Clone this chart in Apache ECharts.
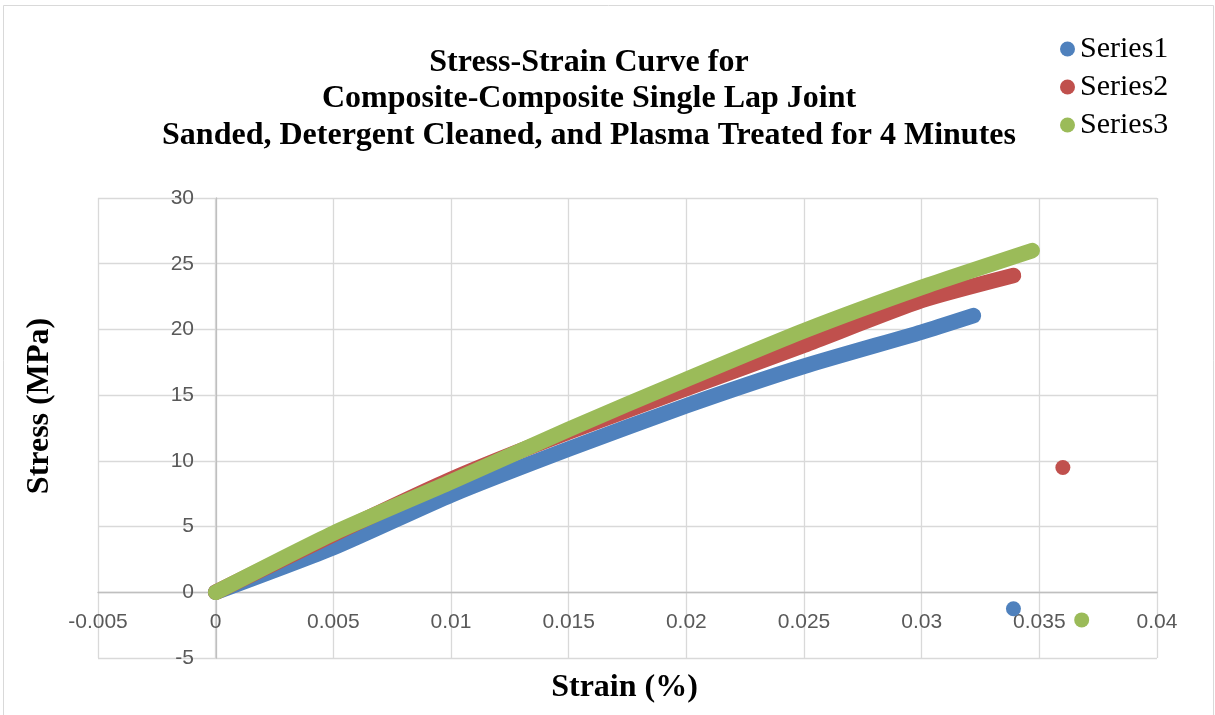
<!DOCTYPE html>
<html>
<head>
<meta charset="utf-8">
<script src="https://cdn.jsdelivr.net/npm/echarts@6/dist/echarts.min.js"></script>
<style>
  html, body { margin: 0; padding: 0; background: #ffffff; }
  #chart { width: 1215px; height: 715px; }
</style>
</head>
<body>
<div id="chart"></div>
<script>
// Strain (%) / stress (MPa) readings for each specimen
const series1Curve = [[0, 0], [0.005, 3.4], [0.01, 7.4], [0.015, 10.9], [0.02, 14.2], [0.025, 17.2], [0.03, 19.8], [0.0322, 21.05]];
const series2Curve = [[0, 0], [0.005, 4.4], [0.01, 8.6], [0.015, 12.2], [0.02, 15.5], [0.025, 18.8], [0.03, 22.2], [0.0339, 24.1]];
const series3Curve = [[0, 0], [0.005, 4.5], [0.01, 8.4], [0.015, 12.4], [0.02, 16.2], [0.025, 19.9], [0.03, 23.2], [0.0347, 26.0]];

// Last reading of each specimen after failure
const series1Break = [[0.0339, -1.25]];
const series2Break = [[0.0360, 9.5]];
const series3Break = [[0.0368, -2.1]];

const seriesNames = ['Series1', 'Series2', 'Series3'];
const seriesColors = ['#4f81bd', '#c0504d', '#9bbb59'];

const titleLines = [
  'Stress-Strain Curve for',
  'Composite-Composite Single Lap Joint',
  'Sanded, Detergent Cleaned, and Plasma Treated for 4 Minutes'
];

const curves = [series1Curve, series2Curve, series3Curve];
const breaks = [series1Break, series2Break, series3Break];

const serif = '"Liberation Serif", "Times New Roman", serif';
const sans = '"Liberation Sans", Arial, sans-serif';

// plot box and where the zero lines fall inside it
const gridBox = { left: 98, right: 58, top: 198, bottom: 57 };
const xZeroFromBottom = 66;   // y = 0 sits 66px above the plot bottom
const yZeroFromLeft = 118;    // x = 0 sits 118px right of the plot left edge

const series = [];
curves.forEach((data, i) => {
  series.push({
    name: seriesNames[i],
    type: 'line',
    data: data,
    showSymbol: false,
    smooth: 0.2,
    lineStyle: { color: seriesColors[i], width: 15.5, cap: 'round', join: 'round', opacity: 1 },
    itemStyle: { color: seriesColors[i] },
    emphasis: { disabled: true },
    z: 2 + i
  });
});
breaks.forEach((data, i) => {
  series.push({
    name: seriesNames[i],
    type: 'scatter',
    data: data,
    symbol: 'circle',
    symbolSize: 15,
    itemStyle: { color: seriesColors[i], opacity: 1 },
    emphasis: { disabled: true },
    z: 2 + i
  });
});

const chart = echarts.init(document.getElementById('chart'), null, { renderer: 'canvas' });
chart.setOption({
  animation: false,
  backgroundColor: '#ffffff',
  graphic: [{
    type: 'rect',
    shape: { x: 3.5, y: 5.5, width: 1210, height: 712 },
    style: { fill: 'none', stroke: '#d9d9d9', lineWidth: 1 },
    silent: true
  }],
  title: {
    text: titleLines.join('\n'),
    left: 584,
    top: 39,
    textAlign: 'center',
    textStyle: {
      fontFamily: serif,
      fontWeight: 'bold',
      fontSize: 32,
      lineHeight: 36.5,
      color: '#000000'
    }
  },
  legend: {
    orient: 'vertical',
    left: 1055,
    top: 29,
    itemGap: 8,
    itemWidth: 15,
    itemHeight: 15,
    icon: 'circle',
    data: seriesNames,
    textStyle: { fontFamily: serif, fontSize: 30, color: '#000000', padding: [0, 0, 0, 0] }
  },
  grid: Object.assign({ containLabel: false, outerBoundsMode: 'none' }, gridBox),
  xAxis: {
    type: 'value',
    min: -0.005,
    max: 0.04,
    interval: 0.005,
    position: 'bottom',
    offset: -xZeroFromBottom,
    name: 'Strain (%)',
    nameLocation: 'middle',
    nameGap: xZeroFromBottom + 14,
    nameTextStyle: { fontFamily: serif, fontWeight: 'bold', fontSize: 32, color: '#000000', padding: [0, 6, 0, 0] },
    axisLine: { onZero: false, lineStyle: { color: '#bfbfbf', width: 1.3 } },
    axisTick: { show: false },
    axisLabel: {
      margin: 20,
      fontFamily: sans,
      fontSize: 21,
      color: '#595959',
      formatter: v => String(Number(v.toFixed(4)))
    },
    splitLine: { show: true, lineStyle: { color: '#d9d9d9', width: 1.3 } }
  },
  yAxis: {
    type: 'value',
    min: -5,
    max: 30,
    interval: 5,
    position: 'left',
    offset: -yZeroFromLeft,
    name: 'Stress (MPa)',
    nameLocation: 'middle',
    nameGap: yZeroFromLeft + 42,
    nameRotate: 90,
    nameTextStyle: { fontFamily: serif, fontWeight: 'bold', fontSize: 32, color: '#000000', padding: [0, 0, 0, 44] },
    axisLine: { onZero: false, lineStyle: { color: '#bfbfbf', width: 1.3 } },
    axisTick: { show: false },
    axisLabel: {
      margin: 22,
      fontFamily: sans,
      fontSize: 21,
      color: '#595959'
    },
    splitLine: { show: true, lineStyle: { color: '#d9d9d9', width: 1.3 } }
  },
  series: series
});
</script>
</body>
</html>
